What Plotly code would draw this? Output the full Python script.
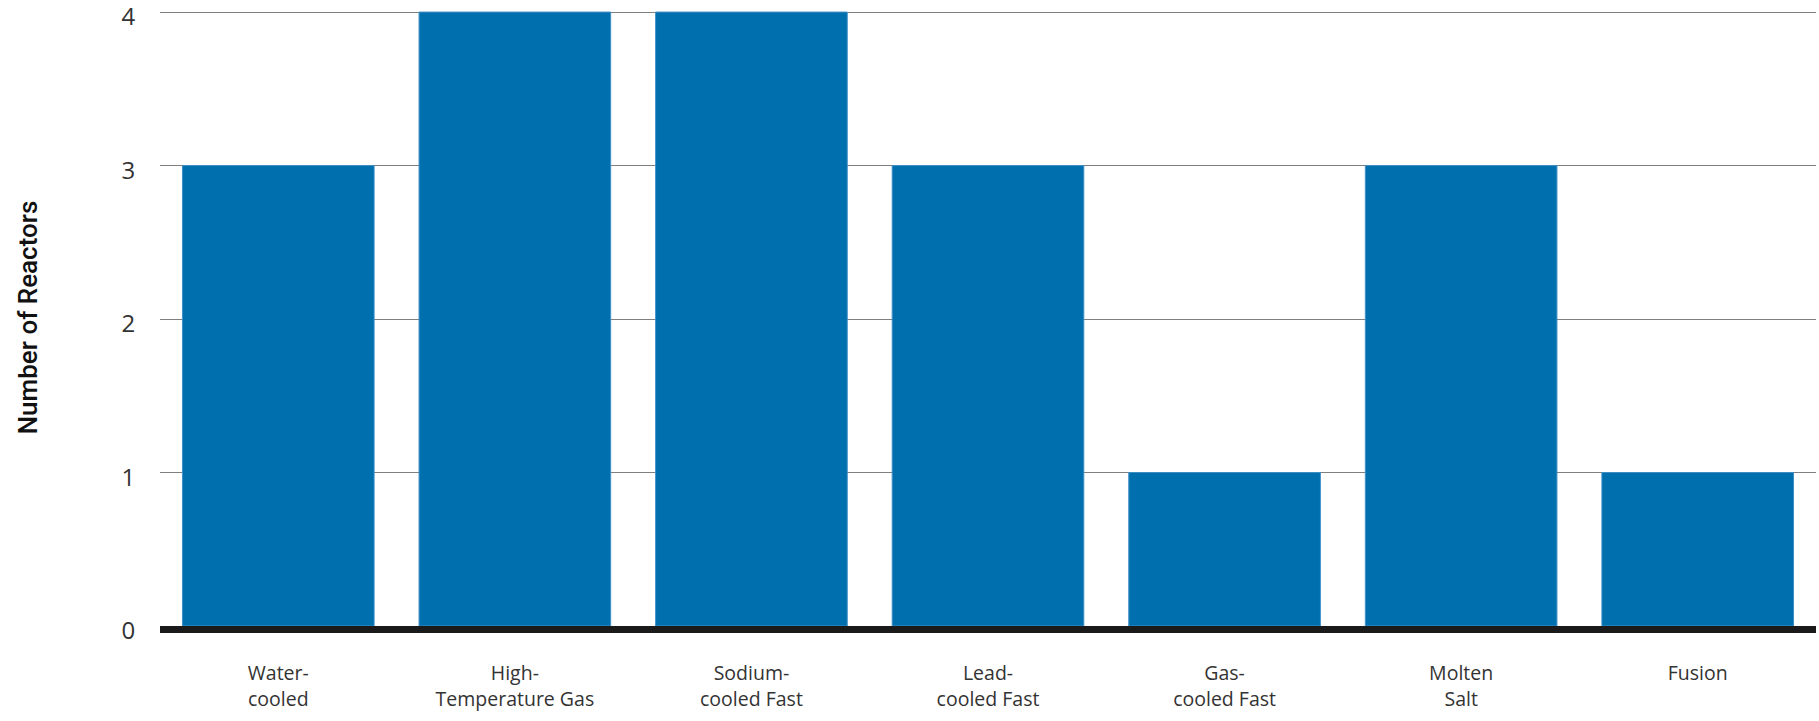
import plotly.graph_objects as go

categories = ["Water-<br>cooled", "High-<br>Temperature Gas", "Sodium-<br>cooled Fast",
              "Lead-<br>cooled Fast", "Gas-<br>cooled Fast", "Molten<br>Salt", "Fusion"]
reactors = [3, 4, 4, 3, 1, 3, 1]
y_ticks = [0, 1, 2, 3, 4]

x_pos = list(range(len(categories)))

fig = go.Figure(go.Bar(
    x=x_pos, y=reactors,
    marker=dict(color="#006FAD", line=dict(color="#3E8FC6", width=1)),
    width=0.81,
))

fig.update_layout(
    width=1819, height=721,
    margin=dict(l=160, r=3, t=9, b=95),
    paper_bgcolor="white", plot_bgcolor="white",
    showlegend=False,
    font=dict(family="Open Sans, Lato, sans-serif", color="#333333", size=20),
)
fig.update_xaxes(
    range=[-0.5, 6.5], automargin=False,
    tickvals=x_pos, ticktext=categories,
    showgrid=False, zeroline=False,
    showline=True, linecolor="#1a1a1a", linewidth=7,
    ticks="outside", ticklen=24, tickcolor="rgba(0,0,0,0)",
    tickfont=dict(size=19.5, color="#333333"),
)
fig.update_yaxes(
    range=[0, 4.02], automargin=False,
    tickvals=y_ticks, ticklabeloverflow="allow", ticklabelshift=5,
    showgrid=True, gridcolor="#7f7f7f", gridwidth=1,
    zeroline=False, showline=False,
    ticks="outside", ticklen=19, tickcolor="rgba(0,0,0,0)",
    tickfont=dict(size=24, color="#333333"),
    title=dict(text="Number of Reactors", standoff=76,
               font=dict(family="Roboto, sans-serif", size=26, color="#111111", weight=500)),
)

fig.write_html("out.html", config={"displayModeBar": False},
               post_script="document.body.style.margin='0';document.body.style.overflow='hidden';")
